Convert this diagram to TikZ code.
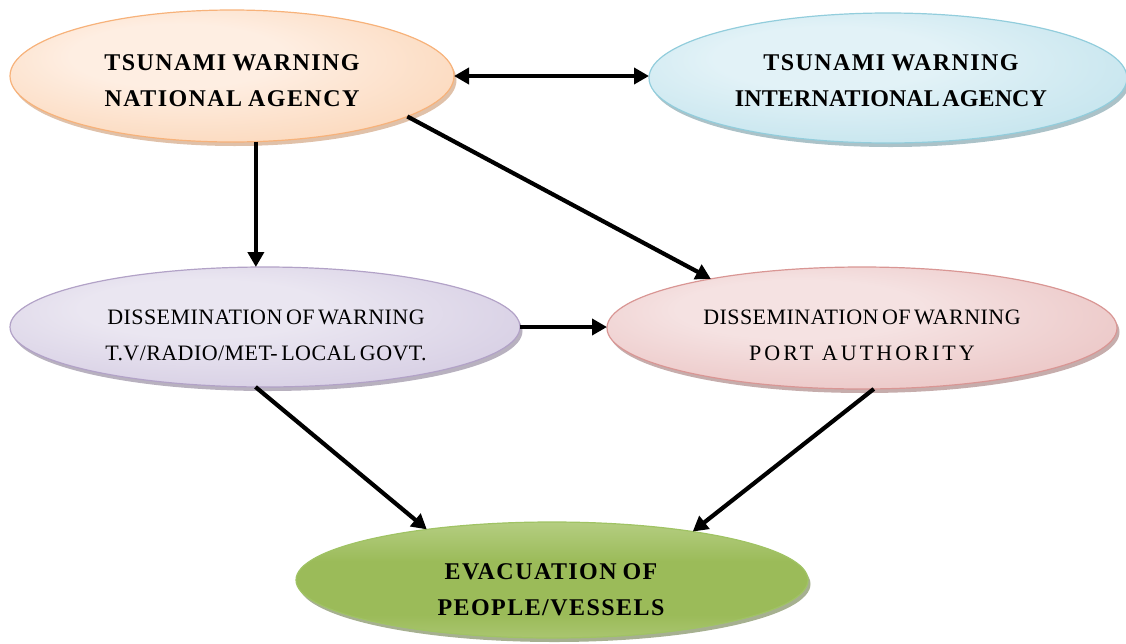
\documentclass[tikz,border=0pt]{standalone}
\usepackage{fontspec}
\setmainfont{Liberation Serif}
\newfontfamily\wideserif[LetterSpace=2,WordSpace=0.6]{Liberation Serif}
\newfontfamily\spreadserif[LetterSpace=14]{Liberation Serif}
\newfontfamily\widebold[LetterSpace=6,WordSpace=0.8]{Liberation Serif}
\newfontfamily\tightbold[LetterSpace=0.5,WordSpace=0.4]{Liberation Serif}
\usetikzlibrary{arrows.meta,shapes.geometric,shadows}
\definecolor{orin}{RGB}{254,238,226}
\definecolor{orout}{RGB}{249,196,152}
\definecolor{orbd}{RGB}{247,178,122}
\definecolor{blin}{RGB}{226,242,247}
\definecolor{blout}{RGB}{170,216,229}
\definecolor{blbd}{RGB}{146,205,220}
\definecolor{puin}{RGB}{234,230,241}
\definecolor{puout}{RGB}{196,184,215}
\definecolor{pubd}{RGB}{178,162,199}
\definecolor{pkin}{RGB}{245,226,226}
\definecolor{pkout}{RGB}{226,172,171}
\definecolor{pkbd}{RGB}{217,150,148}
\definecolor{grtop}{RGB}{200,220,160}
\definecolor{grmid}{RGB}{155,187,89}
\definecolor{grbot}{RGB}{195,215,152}
\definecolor{grbd}{RGB}{160,195,100}
\pgfdeclareradialshading{orsh}{\pgfpoint{-8bp}{10bp}}{color(0bp)=(orin); color(12bp)=(orin); color(52bp)=(orout)}
\pgfdeclareradialshading{blsh}{\pgfpoint{-8bp}{10bp}}{color(0bp)=(blin); color(12bp)=(blin); color(52bp)=(blout)}
\pgfdeclareradialshading{push}{\pgfpoint{-8bp}{10bp}}{color(0bp)=(puin); color(12bp)=(puin); color(52bp)=(puout)}
\pgfdeclareradialshading{pksh}{\pgfpoint{-8bp}{10bp}}{color(0bp)=(pkin); color(12bp)=(pkin); color(52bp)=(pkout)}
\pgfdeclareverticalshading{grsh}{100bp}{color(0bp)=(grbot); color(8bp)=(grbot); color(35bp)=(grmid); color(58bp)=(grmid); color(88bp)=(grtop); color(100bp)=(grtop)}
\tikzset{
  oval/.style={ellipse, inner sep=0pt, outer sep=0pt, line width=1.2pt},
  shad/.style={drop shadow={shadow xshift=2.5pt, shadow yshift=-4pt, opacity=0.55, fill=#1}},
  boldtxt/.style={align=center, anchor=north, inner sep=0pt, font=\fontsize{24}{36}\selectfont\widebold\bfseries},
  regtxt/.style={align=center, anchor=north, inner sep=0pt, font=\fontsize{22}{36}\selectfont\wideserif},
  arr/.style={line width=4.2pt, -{Triangle[length=15pt,width=16pt]}},
  darr/.style={line width=4.2pt, {Triangle[length=15pt,width=16pt]}-{Triangle[length=15pt,width=16pt]}}
}
\begin{document}
\begin{tikzpicture}[x=1pt,y=-1pt]
\useasboundingbox (0,0) rectangle (1126,643);
% ellipses
\node[oval, minimum width=444pt, minimum height=132pt, draw=orbd, shading=orsh, shad=orbd!80!black] (or) at (232,76) {};
\node[oval, minimum width=478pt, minimum height=130pt, draw=blbd, shading=blsh, shad=blbd!70!black] (bl) at (888,78) {};
\node[oval, minimum width=510pt, minimum height=120pt, draw=pubd, shading=push, shad=pubd!70!black] (pu) at (265,327) {};
\node[oval, minimum width=510pt, minimum height=122pt, draw=pkbd, shading=pksh, shad=pkbd!70!black] (pk) at (862,328) {};
\node[oval, minimum width=512pt, minimum height=116pt, draw=grbd, shading=grsh, shad=grmid!60!black] (gr) at (552,580) {};
% texts
\node[boldtxt] (ort) at (232,54) {TSUNAMI WARNING\\NATIONAL AGENCY};
\node[boldtxt] (blt) at (891,54) {TSUNAMI WARNING\\{\tightbold\bfseries INTERNATIONAL AGENCY}};
\node[regtxt] (put) at (266,310) {DISSEMINATION OF WARNING\\T.V/RADIO/MET- LOCAL GOVT.};
\node[regtxt] (pkt) at (862,310) {DISSEMINATION OF WARNING\\{\spreadserif PORT AUTHORITY}};
\node[boldtxt] (grt) at (551,563) {EVACUATION OF\\PEOPLE/VESSELS};
% connectors
\draw[darr] (or.east) -- (or.east -| bl.west);
\draw[arr] (or.-70.5) -- (or.-70.5 |- pu.north);
\draw[arr] (or.-13.4) -- (pk.162.3);
\draw[arr] (pu.east) -- (pu.east -| pk.west);
\draw[arr] (pu.-99.5) -- (gr.158.5);
\draw[arr] (pk.-79.6) -- (gr.19.3);
\end{tikzpicture}
\end{document}
